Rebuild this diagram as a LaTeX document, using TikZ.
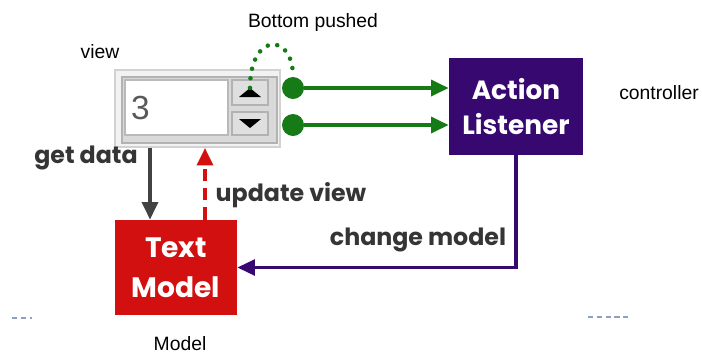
\documentclass[tikz,border=0pt]{standalone}
\usepackage{fontspec}
\setmainfont{Liberation Sans}
\newfontfamily\geo{Poppins}
\usetikzlibrary{arrows.meta,positioning}

\definecolor{btngreen}{RGB}{22,122,22}
\definecolor{ctrlpurple}{RGB}{55,8,112}
\definecolor{modelred}{RGB}{210,16,16}
\definecolor{getgray}{RGB}{66,66,66}
\definecolor{dashblue}{RGB}{140,160,195}

\begin{document}
\begin{tikzpicture}[x=0.02cm, y=-0.02cm,
    % styles
    plain/.style={font=\fontsize{11}{13}\selectfont},
    verb/.style={font=\geo\bfseries\fontsize{13.5}{16}\selectfont, text=getgray!80!black},
    block/.style={rectangle, inner sep=0pt, align=center, text=white, font=\geo\bfseries\fontsize{15}{20}\selectfont},
    btn/.style={rectangle, draw=gray!60, fill=gray!25, line width=1pt, minimum width=0.72cm, inner sep=0pt},
    knob/.style={circle, fill=btngreen, minimum size=0.44cm, inner sep=0pt},
    flow/.style={-{Triangle[length=10pt,width=9pt]}, line width=2.2pt}
]
\useasboundingbox (0,0) rectangle (702,356);

% the spinner (view)
\node[rectangle, draw=gray!35, fill=gray!10, line width=1pt, minimum width=3.3cm, minimum height=1.54cm] (spin) at (197.5,108.5) {};
\node[rectangle, draw=gray!60, fill=gray!30, line width=1.5pt, minimum width=3.1cm, minimum height=1.32cm] (frame) at (199.5,110) {};
\node[rectangle, draw=gray!55, fill=white, line width=1pt, minimum width=2.06cm, minimum height=1.1cm] (field) at (176.5,107.5) {};
\node[font=\fontsize{19}{19}\selectfont, text=gray!70!black, anchor=west] (val) at (125,108) {3};
\node[btn, minimum height=0.5cm] (up) at (250,92.5) {};
\node[btn, minimum height=0.46cm] (down) at (250,123.5) {};
\fill ([shift={(-11,4.5)}]up.center) -- ([shift={(11,4.5)}]up.center) -- ([shift={(0,-4.5)}]up.center) -- cycle;
\fill ([shift={(-11,-4.5)}]down.center) -- ([shift={(11,-4.5)}]down.center) -- ([shift={(0,4.5)}]down.center) -- cycle;

% blocks
\node[block, fill=ctrlpurple, minimum width=2.68cm, minimum height=1.94cm] (act) at (516,106.5) {Action\\Listener};
\node[block, fill=modelred, minimum width=2.44cm, minimum height=1.9cm, font=\geo\bfseries\fontsize{16}{23}\selectfont] (txt) at (176,267.5) {Text\\Model};

% button events
\node[knob] (knob1) at (293,88) {};
\node[knob] (knob2) at (293,125) {};
\draw[btngreen, line width=2.6pt, line cap=round, dash pattern=on 0pt off 5.5pt] ([yshift=-5]up.north) .. controls (250,32) and (293,32) .. (knob1.north);
\draw[flow, btngreen] (knob1) -- (knob1 -| act.west);
\draw[flow, btngreen] (knob2) -- (knob2 -| act.west);

% model connections
\coordinate (getx) at (150,0);
\coordinate (updx) at (205,0);
\draw[flow, getgray] (getx |- spin.south) -- (getx |- txt.north);
\draw[flow, modelred, dash pattern=on 7pt off 4pt] (updx |- txt.north) -- (updx |- spin.south);
\draw[flow, ctrlpurple, line width=1.8pt] (act.south) |- (txt.east);

% labels
\node[plain] (viewlbl) at (100,52) {view};
\node[plain] (pushlbl) at (313,22) {Bottom pushed};
\node[plain] (ctrllbl) at (659,93) {controller};
\node[plain] (modellbl) at (180,344) {Model};
\node[verb] (getlbl) at (86,158) {get data};
\node[verb] (updlbl) at (291,195) {update view};
\node[verb] (chglbl) at (418,240) {change model};

% stray dashes
\draw[dashblue, line width=0.6pt, dash pattern=on 3pt off 2pt] (12,318) -- (32,318);
\draw[dashblue, line width=0.6pt, dash pattern=on 3pt off 2pt] (588,317) -- (630,317);
\end{tikzpicture}
\end{document}
